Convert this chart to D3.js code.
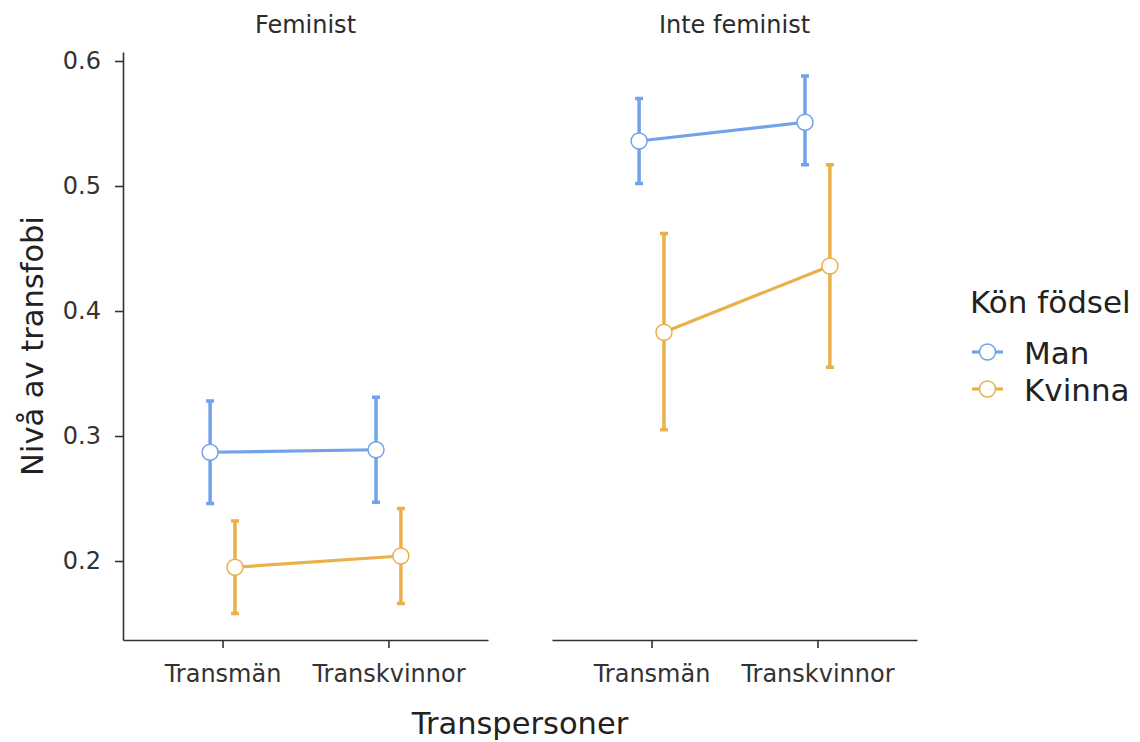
<!DOCTYPE html>
<html>
<head>
<meta charset="utf-8">
<script src="https://cdn.jsdelivr.net/npm/d3@7"></script>
<style>
  body { margin: 0; background: #fff; }
  svg text { font-family: "DejaVu Sans", sans-serif; }
</style>
</head>
<body>
<svg id="chart" width="1140" height="742"></svg>
<script>
// data
var panels = ["Feminist", "Inte feminist"];
var categories = ["Transmän", "Transkvinnor"];
var groups = ["Man", "Kvinna"];
var yTicks = [0.2, 0.3, 0.4, 0.5, 0.6];

// means, lower and upper limits, ordered [panel][category]
var manMean  = [[0.287, 0.289], [0.536, 0.551]];
var manLow   = [[0.246, 0.247], [0.502, 0.517]];
var manHigh  = [[0.328, 0.331], [0.570, 0.588]];
var kvMean   = [[0.195, 0.204], [0.383, 0.436]];
var kvLow    = [[0.158, 0.166], [0.305, 0.355]];
var kvHigh   = [[0.232, 0.242], [0.462, 0.517]];

var colors = { "Man": "#72a2ea", "Kvinna": "#e9b04b" };

var svg = d3.select("#chart");

// layout
var plotTop = 52, plotBottom = 640;
var panelX = [123, 552], panelW = 365;

var y = d3.scaleLinear()
    .domain([0.1368, 0.6072])
    .range([plotBottom, plotTop]);

// build rows
var rows = [];
panels.forEach(function(p, pi) {
    categories.forEach(function(c, ci) {
        rows.push({ panel: pi, cat: c, group: "Man", mean: manMean[pi][ci], lo: manLow[pi][ci], hi: manHigh[pi][ci] });
        rows.push({ panel: pi, cat: c, group: "Kvinna", mean: kvMean[pi][ci], lo: kvLow[pi][ci], hi: kvHigh[pi][ci] });
    });
});

panels.forEach(function(p, pi) {
    var x = d3.scalePoint()
        .domain(categories)
        .range([panelX[pi], panelX[pi] + panelW])
        .padding(0.6);
    var dodge = x.step() * 0.075;
    function px(d) { return x(d.cat) + (d.group == "Man" ? -dodge : dodge); }

    var g = svg.append("g");

    // strip label
    g.append("text")
        .attr("x", panelX[pi] + panelW / 2)
        .attr("y", 33)
        .attr("text-anchor", "middle")
        .style("font-size", "24px")
        .style("fill", "#2b2b2b")
        .text(p);

    // x axis
    var xa = g.append("g")
        .attr("transform", "translate(0," + plotBottom + ")")
        .call(d3.axisBottom(x).tickSize(8).tickSizeOuter(0).tickPadding(17));
    xa.select(".domain").attr("stroke", "#333").attr("stroke-width", 1.6);
    xa.selectAll(".tick line").attr("stroke", "#333").attr("stroke-width", 1.6);
    xa.selectAll("text").style("font-size", "24px").style("fill", "#333");

    // y axis only on the first panel
    if (pi == 0) {
        var ya = g.append("g")
            .attr("transform", "translate(" + panelX[0] + ",0)")
            .call(d3.axisLeft(y).tickValues(yTicks).tickFormat(d3.format(".1f")).tickSize(8).tickSizeOuter(0).tickPadding(14));
        ya.select(".domain").attr("stroke", "#333").attr("stroke-width", 1.6);
        ya.selectAll(".tick line").attr("stroke", "#333").attr("stroke-width", 1.6);
        ya.selectAll("text").style("font-size", "24px").style("fill", "#333");
    }

    var data = rows.filter(function(d) { return d.panel == pi; });

    // error bars
    var eb = g.append("g").selectAll("g")
        .data(data)
        .enter().append("g")
        .attr("stroke", function(d) { return colors[d.group]; })
        .attr("stroke-width", 3.5);
    eb.append("line")
        .attr("x1", px).attr("x2", px)
        .attr("y1", function(d) { return y(d.lo); })
        .attr("y2", function(d) { return y(d.hi); });
    eb.append("line")
        .attr("x1", function(d) { return px(d) - 4; })
        .attr("x2", function(d) { return px(d) + 4; })
        .attr("y1", function(d) { return y(d.hi); })
        .attr("y2", function(d) { return y(d.hi); });
    eb.append("line")
        .attr("x1", function(d) { return px(d) - 4; })
        .attr("x2", function(d) { return px(d) + 4; })
        .attr("y1", function(d) { return y(d.lo); })
        .attr("y2", function(d) { return y(d.lo); });

    // lines
    var line = d3.line()
        .x(px)
        .y(function(d) { return y(d.mean); });
    groups.forEach(function(gr) {
        g.append("path")
            .datum(data.filter(function(d) { return d.group == gr; }))
            .attr("d", line)
            .attr("fill", "none")
            .attr("stroke", colors[gr])
            .attr("stroke-width", 3.2);
    });

    // points
    g.append("g").selectAll("circle")
        .data(data)
        .enter().append("circle")
        .attr("cx", px)
        .attr("cy", function(d) { return y(d.mean); })
        .attr("r", 8)
        .attr("fill", "#fff")
        .attr("stroke", function(d) { return colors[d.group]; })
        .attr("stroke-width", 1.5);
});

// axis titles
svg.append("text")
    .attr("transform", "translate(43," + ((plotTop + plotBottom) / 2) + ") rotate(-90)")
    .attr("text-anchor", "middle")
    .style("font-size", "30.5px")
    .style("fill", "#222")
    .text("Nivå av transfobi");

svg.append("text")
    .attr("x", (panelX[0] + panelX[1] + panelW) / 2)
    .attr("y", 734)
    .attr("text-anchor", "middle")
    .style("font-size", "30.5px")
    .style("fill", "#222")
    .text("Transpersoner");

// legend
var legend = svg.append("g").attr("transform", "translate(970,0)");
legend.append("text")
    .attr("x", 0)
    .attr("y", 313)
    .style("font-size", "31px")
    .style("fill", "#222")
    .text("Kön födsel");

var item = legend.selectAll(".item")
    .data(groups)
    .enter().append("g")
    .attr("class", "item")
    .attr("transform", function(d, i) { return "translate(0," + (352 + i * 37) + ")"; });
item.append("line")
    .attr("x1", 2).attr("x2", 33)
    .attr("stroke", function(d) { return colors[d]; })
    .attr("stroke-width", 3.2);
item.append("circle")
    .attr("cx", 17.5)
    .attr("r", 8)
    .attr("fill", "#fff")
    .attr("stroke", function(d) { return colors[d]; })
    .attr("stroke-width", 1.5);
item.append("text")
    .attr("x", 54)
    .attr("y", 12)
    .style("font-size", "31px")
    .style("fill", "#222")
    .text(function(d) { return d; });
</script>
</body>
</html>
